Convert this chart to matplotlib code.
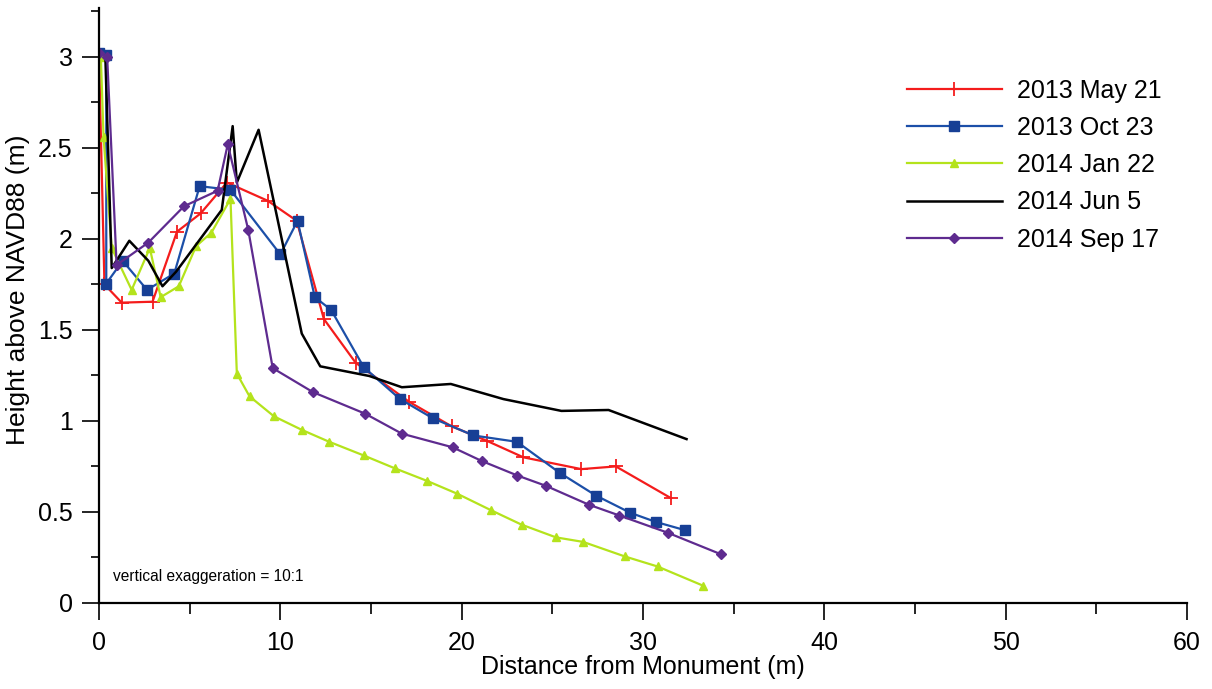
import matplotlib
matplotlib.use('Agg')
import matplotlib.pyplot as plt
from matplotlib.ticker import MultipleLocator

plt.rcParams['font.family'] = ['Liberation Sans', 'DejaVu Sans']

# beach profiles, distance (m) vs height (m)
may13_x = [0.0, 0.3, 1.25, 2.95, 4.3, 5.6, 7.05, 9.3, 10.9, 12.4, 14.15, 17.1,
           19.45, 21.4, 23.4, 26.6, 28.5, 31.55]
may13_y = [3.0, 1.75, 1.65, 1.655, 2.04, 2.14, 2.31, 2.21, 2.10, 1.56, 1.32, 1.105,
           0.97, 0.89, 0.80, 0.735, 0.75, 0.575]

oct13_x = [0.0, 0.4, 0.4, 1.3, 2.65, 4.15, 5.55, 7.25, 10.0, 10.95, 11.9, 12.8,
           14.6, 16.6, 18.4, 20.65, 23.05, 25.4, 27.4, 29.3, 30.7, 32.3]
oct13_y = [3.02, 3.01, 1.755, 1.88, 1.72, 1.81, 2.29, 2.27, 1.915, 2.10, 1.68, 1.61,
           1.295, 1.12, 1.015, 0.92, 0.885, 0.715, 0.59, 0.495, 0.445, 0.40]

jan14_x = [0.1, 0.25, 0.7, 1.8, 2.8, 3.4, 4.4, 5.35, 6.2, 7.25, 7.6, 8.3, 9.65,
           11.2, 12.7, 14.6, 16.3, 18.1, 19.75, 21.6, 23.3, 25.2, 26.7, 29.0,
           30.8, 33.3]
jan14_y = [3.0, 2.56, 1.95, 1.72, 1.95, 1.68, 1.74, 1.96, 2.035, 2.22, 1.26, 1.135,
           1.025, 0.95, 0.885, 0.81, 0.74, 0.67, 0.60, 0.51, 0.43, 0.36, 0.335,
           0.255, 0.20, 0.095]

jun14_x = [0.35, 0.7, 1.67, 2.72, 3.5, 4.25, 6.77, 7.37, 7.6, 8.8, 11.18, 12.2,
           14.9, 16.7, 19.4, 22.3, 25.5, 28.1, 32.4]
jun14_y = [3.0, 1.84, 1.99, 1.88, 1.74, 1.82, 2.16, 2.62, 2.31, 2.60, 1.48, 1.30,
           1.247, 1.185, 1.203, 1.12, 1.055, 1.06, 0.90]

sep14_x = [0.0, 0.45, 0.97, 2.72, 4.69, 6.54, 7.1, 8.23, 9.58, 11.8, 14.67, 16.7,
           19.5, 21.1, 23.07, 24.65, 27.0, 28.7, 31.35, 34.3]
sep14_y = [3.02, 3.0, 1.857, 1.98, 2.18, 2.265, 2.52, 2.05, 1.29, 1.158, 1.04, 0.93,
           0.855, 0.78, 0.70, 0.643, 0.54, 0.48, 0.386, 0.267]

fig = plt.figure(figsize=(12.12, 6.89), dpi=100)
ax = fig.add_axes([0.0817, 0.125, 0.8977, 0.8636])

ax.plot(may13_x, may13_y, '-', color='#f41c1c', lw=1.6, marker='+', ms=10,
        mew=1.3, label='2013 May 21')
ax.plot(oct13_x, oct13_y, '-', color='#1c4fa8', lw=1.6, marker='s', ms=7,
        mfc='#173f95', mec='#173f95', label='2013 Oct 23')
ax.plot(jan14_x, jan14_y, '-', color='#b4e31c', lw=1.6, marker='^', ms=6,
        label='2014 Jan 22')
ax.plot(jun14_x, jun14_y, '-', color='black', lw=1.8, label='2014 Jun 5')
ax.plot(sep14_x, sep14_y, '-', color='#5e2b8f', lw=1.6, marker='D', ms=5,
        label='2014 Sep 17')

ax.set_xlim(0, 60)
ax.set_ylim(0, 3.27)
ax.xaxis.set_major_locator(MultipleLocator(10))
ax.xaxis.set_minor_locator(MultipleLocator(5))
ax.yaxis.set_minor_locator(MultipleLocator(0.25))
ax.set_yticks([0, 0.5, 1, 1.5, 2, 2.5, 3])
ax.set_yticklabels(['0', '0.5', '1', '1.5', '2', '2.5', '3'])

for s in ['top', 'right']:
    ax.spines[s].set_visible(False)
for s in ['left', 'bottom']:
    ax.spines[s].set_linewidth(1.6)
ax.tick_params(which='major', direction='out', length=12, width=1.2,
               labelsize=18)
ax.tick_params(which='minor', direction='out', length=6, width=1.2)
ax.tick_params(axis='y', which='major', pad=7)
ax.tick_params(axis='x', which='major', pad=8)
ax.tick_params(axis='x', which='minor', length=8)

ax.set_xlabel('Distance from Monument (m)', fontsize=18, labelpad=0)
ax.set_ylabel('Height above NAVD88 (m)', fontsize=19)
ax.yaxis.set_label_coords(-0.063, 0.526)

ax.text(0.77, 0.143, 'vertical exaggeration = 10:1', fontsize=11.2,
        ha='left', va='center')

ax.legend(loc='upper left', bbox_to_anchor=(0.7294, 0.9187),
          bbox_transform=fig.transFigure, frameon=False, fontsize=18,
          handlelength=3.8, labelspacing=0.53, handletextpad=0.6)

plt.savefig('out.png', dpi=100)
